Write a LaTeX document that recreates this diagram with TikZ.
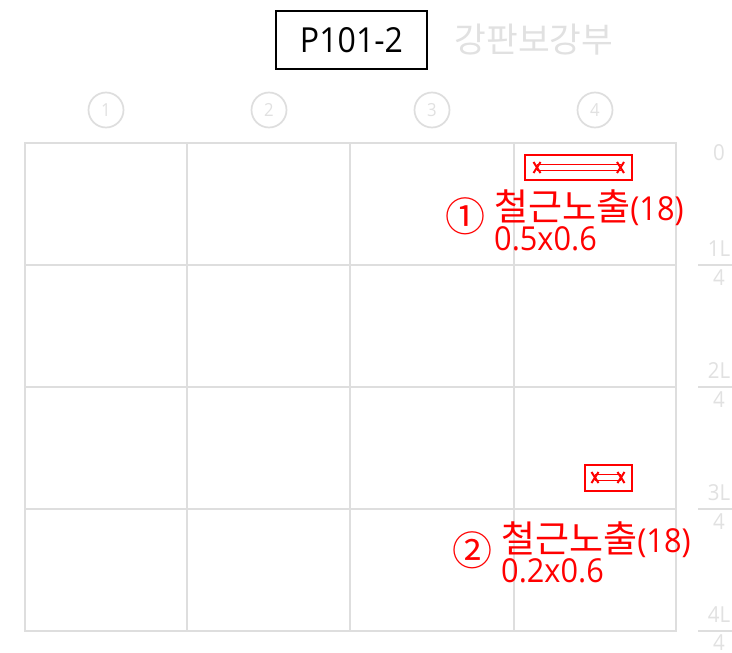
\documentclass[tikz,border=0pt]{standalone}
\usepackage{fontspec}
\setmainfont[FakeStretch=0.93]{Open Sans}
\newfontfamily\krfont{Noto Sans CJK KR}
\definecolor{pale}{RGB}{222,222,222}
\definecolor{palet}{RGB}{225,225,225}
\definecolor{rd}{RGB}{255,0,0}
\tikzset{
  x=1pt,y=-1pt,
  gridline/.style={draw=pale,line width=2pt},
  axis/.style={circle,draw=pale,line width=1.7pt,minimum size=35pt,inner sep=0pt,text=palet,font=\fontsize{18}{18}\selectfont},
  lev/.style={text=palet,inner sep=0pt,font=\fontsize{22}{22}\selectfont},
  levline/.style={draw=pale,line width=2pt},
  redbox/.style={draw=rd,line width=2pt},
  redline/.style={draw=rd,line width=1.6pt},
  redmark/.style={draw=rd,line width=2pt},
  note/.style={text=rd,inner sep=0pt,anchor=base west,font=\fontsize{33}{33}\selectfont},
  dim/.style={text=rd,inner sep=0pt,anchor=base west,font=\fontsize{33}{33}\selectfont},
  circ/.style={text=rd,inner sep=0pt,anchor=center,font=\krfont\fontsize{40}{40}\selectfont},
}
\begin{document}
\begin{tikzpicture}
\useasboundingbox (0,0) rectangle (732,653);
\fill[white] (0,0) rectangle (732,653);
% grid
\draw[gridline] (25,142.5) rectangle (676,631);
\foreach \yy in {264.5,386.5,508.5}{\draw[gridline] (25,\yy) -- (676,\yy);}
\foreach \xx in {187,350,513.5}{\draw[gridline] (\xx,142.5) -- (\xx,631);}
% title
\node[draw=black,line width=2pt,minimum width=151pt,minimum height=58pt,inner sep=0pt,font=\fontsize{34.5}{34.5}\selectfont] (title) at (351.5,40) {P101-2};
\node[text=palet,inner sep=0pt,font=\krfont\fontsize{34.5}{34.5}\selectfont] (sub) at (534,40) {강판보강부};
% axes
\node[axis] (a1) at (106,110) {1};
\node[axis] (a2) at (269,110) {2};
\node[axis] (a3) at (432,110) {3};
\node[axis] (a4) at (595,110) {4};
% levels
\node[lev] (l0) at (719,153) {0};
\node[lev] (n1) at (719,249) {1L};
\node[lev] (d1) at (719,278) {4};
\node[lev] (n2) at (719,371) {2L};
\node[lev] (d2) at (719,400) {4};
\node[lev] (n3) at (719,493) {3L};
\node[lev] (d3) at (719,522) {4};
\node[lev] (n4) at (719,615) {4L};
\node[lev] (d4) at (719,643) {4};
\foreach \yy in {264.5,386.5,508.5,631}{\draw[levline] (698,\yy) -- (732,\yy);}
% box 1
\draw[redbox] (524.5,155) rectangle (632,179.5);
\coordinate (p1a) at (537,167.5);
\coordinate (p1b) at (620.5,167.5);
\draw[redline] ([yshift=-3pt]p1a) -- ([yshift=-3pt]p1b);
\draw[redline] ([yshift=3pt]p1a) -- ([yshift=3pt]p1b);
\draw[redmark] ([shift={(-3.5,-5.5)}]p1a) -- ([shift={(3.5,5.5)}]p1a);
\draw[redmark] ([shift={(-3.5,5.5)}]p1a) -- ([shift={(3.5,-5.5)}]p1a);
\draw[redmark] ([shift={(-3.5,-5.5)}]p1b) -- ([shift={(3.5,5.5)}]p1b);
\draw[redmark] ([shift={(-3.5,5.5)}]p1b) -- ([shift={(3.5,-5.5)}]p1b);
% box 2
\draw[redbox] (584.5,465) rectangle (632,490.5);
\coordinate (p2a) at (595,477.5);
\coordinate (p2b) at (621,477.5);
\draw[redline] ([yshift=-3pt]p2a) -- ([yshift=-3pt]p2b);
\draw[redline] ([yshift=3pt]p2a) -- ([yshift=3pt]p2b);
\draw[redmark] ([shift={(-3.5,-5.5)}]p2a) -- ([shift={(3.5,5.5)}]p2a);
\draw[redmark] ([shift={(-3.5,5.5)}]p2a) -- ([shift={(3.5,-5.5)}]p2a);
\draw[redmark] ([shift={(-3.5,-5.5)}]p2b) -- ([shift={(3.5,5.5)}]p2b);
\draw[redmark] ([shift={(-3.5,5.5)}]p2b) -- ([shift={(3.5,-5.5)}]p2b);
% notes
\node[circ] (c1) at (465,216) {①};
\node[note] (t1) at (494,220) {{\krfont\fontsize{37}{37}\selectfont 철근노출}(18)};
\node[dim] (v1) at (494,250) {0.5x0.6};
\node[circ] (c2) at (472,550) {②};
\node[note] (t2) at (501,552) {{\krfont\fontsize{37}{37}\selectfont 철근노출}(18)};
\node[dim] (v2) at (501,582) {0.2x0.6};
\end{tikzpicture}
\end{document}
